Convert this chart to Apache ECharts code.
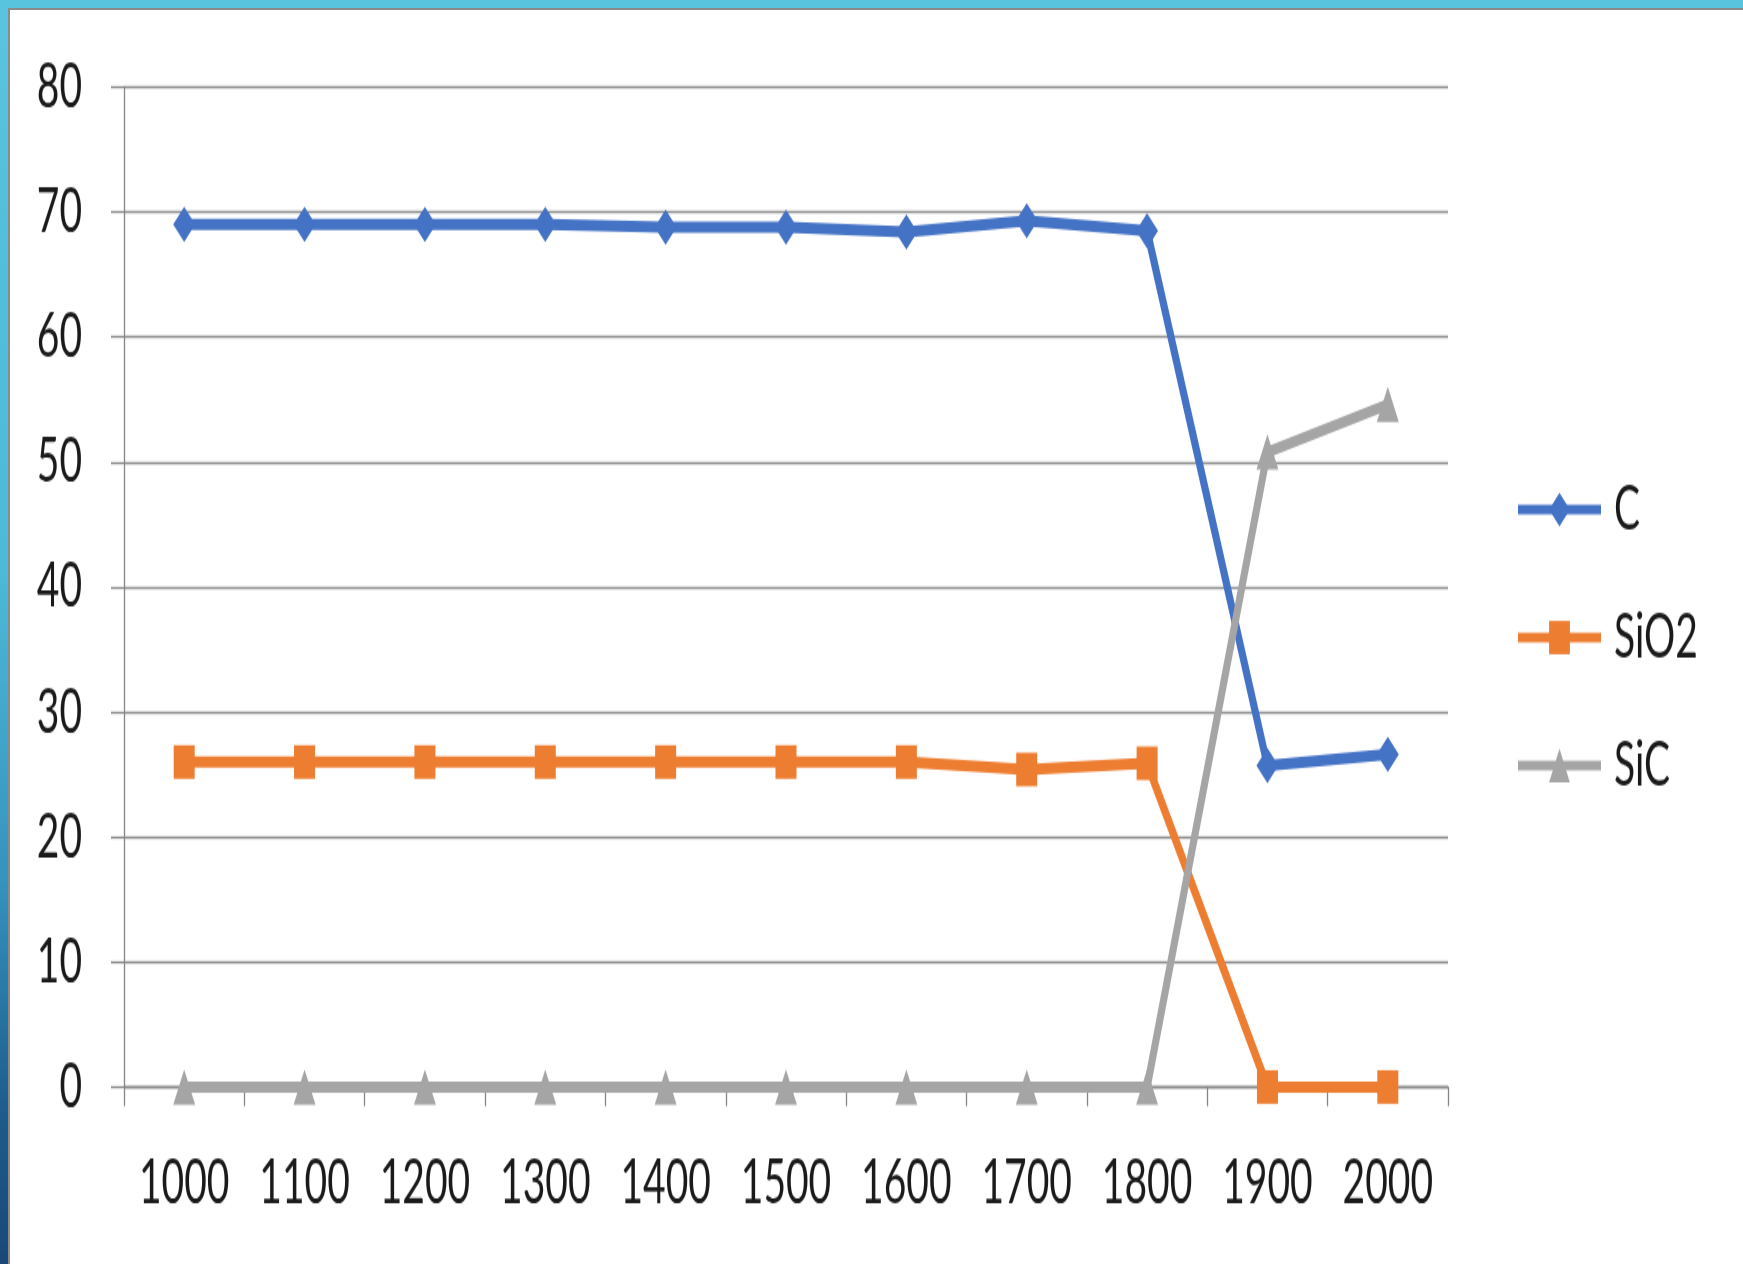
<!DOCTYPE html>
<html>
<head>
<meta charset="utf-8">
<script src="https://cdn.jsdelivr.net/npm/echarts@6/dist/echarts.min.js"></script>
<style>
  html, body { margin: 0; padding: 0; }
  body { width: 1743px; height: 1264px; overflow: hidden; position: relative;
         background: linear-gradient(to bottom, #58c4dd 0%, #4cbad8 45%, #3592bd 70%, #1d5c8c 88%, #1a4877 100%); }
  #panel { position: absolute; left: 8px; top: 8px; width: 1733px; height: 1254px;
           background: #ffffff; border-left: 2px solid #8a8a8a; border-top: 2px solid #8a8a8a;
           border-right: 2px solid #c4c4c4; border-bottom: 2px solid #c4c4c4; box-sizing: content-box; }
  /* chart is drawn on a short canvas and stretched vertically */
  #chart { position: absolute; left: 0; top: 0; width: 1743px; height: 790px;
           transform: scaleY(1.6); transform-origin: 0 0; }
</style>
</head>
<body>
<div id="panel"></div>
<div id="chart"></div>
<script>
// Temperatures on the x axis
const temperatures = ['1000', '1100', '1200', '1300', '1400', '1500', '1600', '1700', '1800', '1900', '2000'];

// Composition of each phase at every temperature
const carbon = [69.0, 69.0, 69.0, 69.0, 68.8, 68.8, 68.4, 69.3, 68.5, 25.7, 26.6];
const silica = [26.0, 26.0, 26.0, 26.0, 26.0, 26.0, 26.0, 25.4, 25.9, 0, 0];
const siliconCarbide = [0, 0, 0, 0, 0, 0, 0, 0, 0, 50.8, 54.6];

// Value axis ticks
const yMin = 0;
const yMax = 80;
const yStep = 10;

const seriesNames = ['C', 'SiO2', 'SiC'];

const axisGray = '#868686';
const labelFont = { fontFamily: 'Lato', fontSize: 39, color: '#1a1a1a' };

const chart = echarts.init(document.getElementById('chart'), null, { renderer: 'canvas' });

chart.setOption({
  animation: false,
  backgroundColor: 'transparent',
  grid: { left: 124, right: 295, top: 54.4, bottom: 110.6, containLabel: false },
  legend: {
    orient: 'vertical',
    left: 1510,
    top: 293.5,
    itemWidth: 83,
    itemHeight: 26,
    itemGap: 40,
    data: seriesNames,
    lineStyle: { width: 6 },
    textStyle: Object.assign({}, labelFont, { lineHeight: 40, padding: [0, 0, 0, 8] })
  },
  xAxis: {
    type: 'category',
    data: temperatures,
    boundaryGap: true,
    axisLine: { show: true, lineStyle: { color: axisGray, width: 1.3 } },
    axisTick: { show: true, length: 12, lineStyle: { color: axisGray, width: 1.3 } },
    axisLabel: Object.assign({}, labelFont, { margin: 41 }),
    splitLine: { show: false }
  },
  yAxis: {
    type: 'value',
    min: yMin,
    max: yMax,
    interval: yStep,
    axisLine: { show: true, lineStyle: { color: axisGray, width: 1.3 } },
    axisTick: { show: true, length: 13, lineStyle: { color: axisGray, width: 1.3 } },
    axisLabel: Object.assign({}, labelFont, { margin: 42 }),
    splitLine: { show: true, lineStyle: { color: '#8c8c8c', width: 1.3 } }
  },
  series: [
    {
      name: seriesNames[0],
      type: 'line',
      data: carbon,
      symbol: 'diamond',
      symbolSize: 22,
      color: '#4472c4',
      lineStyle: { width: 7, color: '#4472c4' },
      itemStyle: { color: '#4472c4' }
    },
    {
      name: seriesNames[1],
      type: 'line',
      data: silica,
      symbol: 'rect',
      symbolSize: 21,
      color: '#ed7d31',
      lineStyle: { width: 7, color: '#ed7d31' },
      itemStyle: { color: '#ed7d31' }
    },
    {
      name: seriesNames[2],
      type: 'line',
      data: siliconCarbide,
      symbol: 'triangle',
      symbolSize: 22,
      color: '#a5a5a5',
      lineStyle: { width: 7, color: '#a5a5a5' },
      itemStyle: { color: '#a5a5a5' }
    }
  ]
});
</script>
</body>
</html>
